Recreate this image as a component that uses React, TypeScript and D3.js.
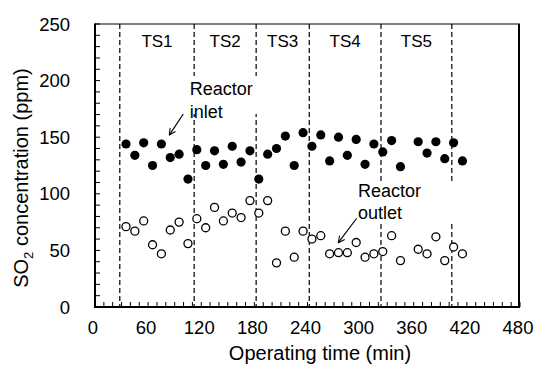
import React from 'react';
import * as d3 from 'd3';

// Operating time (min) of each sample
const inletTime = [35, 45, 55, 65, 75, 85, 95, 105, 115, 125, 135, 145, 155, 165, 175, 185, 195, 205, 215, 225, 235, 245, 255, 265, 275, 285, 295, 305, 315, 325, 335, 345, 365, 375, 385, 395, 405, 415];
// SO2 at reactor inlet (ppm)
const inletSO2 = [144, 134, 145, 125, 144, 132, 135, 113, 139, 125, 138, 126, 142, 128, 138, 113, 135, 140, 151, 125, 154, 142, 152, 129, 150, 134, 148, 126, 144, 137, 147, 124, 146, 136, 146, 131, 145, 129];
const outletTime = [35, 45, 55, 65, 75, 85, 95, 105, 115, 125, 135, 145, 155, 165, 175, 185, 195, 205, 215, 225, 235, 245, 255, 265, 275, 285, 295, 305, 315, 325, 335, 345, 365, 375, 385, 395, 405, 415];
// SO2 at reactor outlet (ppm)
const outletSO2 = [71, 67, 76, 55, 47, 68, 75, 56, 78, 70, 88, 76, 83, 79, 94, 83, 94, 39, 67, 44, 67, 60, 63, 47, 48, 48, 57, 44, 47, 49, 63, 41, 51, 47, 62, 41, 53, 47];
// Test-stage boundaries (min)
const dividers = [28, 112, 182, 242, 323, 403];
const stageLabels = ['TS1', 'TS2', 'TS3', 'TS4', 'TS5'];
const xTickLabels = [0, 60, 120, 180, 240, 300, 360, 420, 480];
const yTickLabels = [0, 50, 100, 150, 200, 250];

const FONT = "'Liberation Sans', Arial, sans-serif";

export default function App() {
  const W = 534, H = 368;
  const x = d3.scaleLinear().domain([0, 480]).range([95, 520]);
  const y = d3.scaleLinear().domain([0, 250]).range([307, 24]);
  const minorX = d3.range(0, 481, 10);
  const minorY = d3.range(0, 251, 10);

  const inletArrow = { x1: x(99.7), y1: y(170.5), x2: x(83.9), y2: y(151.9) };
  const outletArrow = { x1: x(295.6), y1: y(78.4), x2: x(274.8), y2: y(56.8) };

  return (
    <svg width={W} height={H} style={{ position: 'absolute', left: 0, top: 0, background: '#fff' }} fontFamily={FONT}>
      <defs>
        <marker id="arr" viewBox="0 0 10 10" refX="9" refY="5" markerWidth="8" markerHeight="8" orient="auto" markerUnits="userSpaceOnUse">
          <path d="M1,1 L9,5 L1,9" fill="none" stroke="#000" strokeWidth={1.3} />
        </marker>
      </defs>
      <rect x={0} y={0} width={W} height={H} fill="#fff" />

      {/* dividers */}
      {dividers.map((d, i) => (
        <line key={'d' + i} x1={x(d)} x2={x(d)} y1={y(250)} y2={y(0)} stroke="#000" strokeWidth={1.2} strokeDasharray="5,3" />
      ))}

      {/* annotation boxes */}
      <rect x={188} y={76} width={74} height={38} fill="#fff" />
      <rect x={354} y={183} width={101} height={39} fill="#fff" />

      {/* stage labels */}
      {stageLabels.map((s, i) => (
        <text key={s} x={x((dividers[i] + dividers[i + 1]) / 2)} y={y(230)} textAnchor="middle" fontSize={17}>{s}</text>
      ))}

      {/* frame */}
      <line x1={x(0)} x2={x(480)} y1={y(250)} y2={y(250)} stroke="#000" strokeWidth={1} />
      <line x1={x(480) - 1} x2={x(480) - 1} y1={y(250)} y2={y(0)} stroke="#000" strokeWidth={2} />
      <line x1={x(0)} x2={x(0)} y1={y(250) - 0.5} y2={y(0) + 1} stroke="#000" strokeWidth={2} />
      <line x1={x(0) - 1} x2={x(480)} y1={y(0)} y2={y(0)} stroke="#000" strokeWidth={2} />

      {/* minor ticks */}
      {minorX.map(t => (
        <line key={'tx' + t} x1={x(t)} x2={x(t)} y1={y(0)} y2={y(0) - 5} stroke="#000" strokeWidth={1} />
      ))}
      {minorY.map(t => (
        <line key={'ty' + t} x1={x(0)} x2={x(0) + 5} y1={y(t)} y2={y(t)} stroke="#000" strokeWidth={1} />
      ))}

      {/* tick labels */}
      {xTickLabels.map(t => (
        <text key={'lx' + t} x={x(t) - 2} y={334} textAnchor="middle" fontSize={18.5}>{t}</text>
      ))}
      {yTickLabels.map(t => (
        <text key={'ly' + t} x={x(0) - 25} y={y(t) + 6.5} textAnchor="end" fontSize={18.5}>{t}</text>
      ))}

      {/* axis titles */}
      <text x={320} y={360} textAnchor="middle" fontSize={20}>Operating time (min)</text>
      <text transform={`translate(28,178) rotate(-90)`} textAnchor="middle" fontSize={20}>
        SO<tspan fontSize={13} dy={5}>2</tspan><tspan dy={-5}> concentration (ppm)</tspan>
      </text>

      {/* data */}
      {inletTime.map((t, i) => (
        <circle key={'i' + i} cx={x(t)} cy={y(inletSO2[i])} r={4.6} fill="#000" />
      ))}
      {outletTime.map((t, i) => (
        <circle key={'o' + i} cx={x(t)} cy={y(outletSO2[i])} r={4} fill="#fff" stroke="#000" strokeWidth={1.3} />
      ))}

      {/* annotations */}
      <text x={x(107)} y={y(187)} fontSize={18}>Reactor</text>
      <text x={x(107)} y={y(167)} fontSize={18}>inlet</text>
      <line {...inletArrow} stroke="#000" strokeWidth={1.2} markerEnd="url(#arr)" />
      <text x={x(297)} y={y(97)} fontSize={18}>Reactor</text>
      <text x={x(297)} y={y(78)} fontSize={18}>outlet</text>
      <line {...outletArrow} stroke="#000" strokeWidth={1.2} markerEnd="url(#arr)" />
    </svg>
  );
}
